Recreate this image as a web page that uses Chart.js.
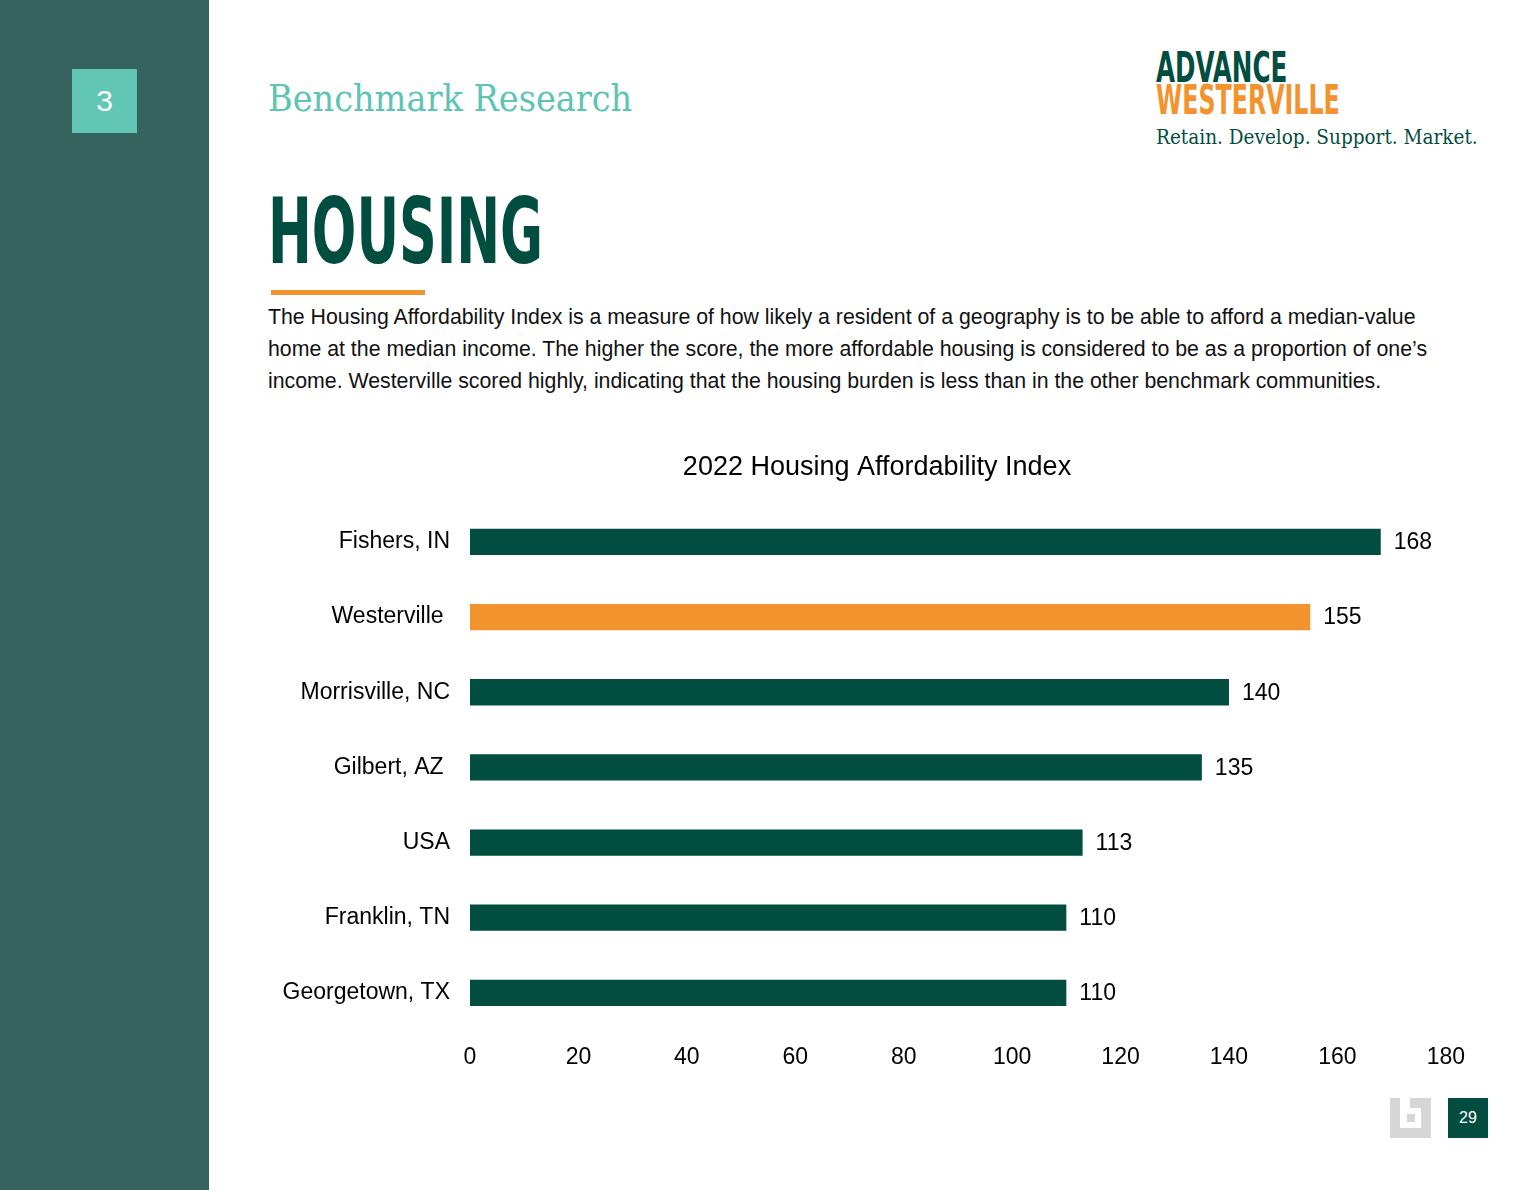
<!DOCTYPE html>
<html>
<head>
<meta charset="utf-8">
<script src="https://cdn.jsdelivr.net/npm/chart.js@4.4.1/dist/chart.umd.min.js"></script>
<style>
  html, body { margin: 0; padding: 0; }
  body { width: 1540px; height: 1190px; position: relative; background: #fff; overflow: hidden; font-family: "Liberation Sans", Arial, sans-serif; }
  .side { position: absolute; left: 0; top: 0; width: 209px; height: 1190px; background: #37635f; }
  .badge { position: absolute; left: 72px; top: 69px; width: 65px; height: 64px; background: #62c6b5; color: #fff; font-size: 30px; line-height: 64px; text-align: center; }
  .fit { position: absolute; white-space: nowrap; transform-origin: 0 0; }
  .section { left: 268px; top: 76px; font-family: "DejaVu Serif", "Liberation Serif", serif; font-size: 38px; color: #5ec4b3; }
  .adv { left: 1156px; top: 46px; font-family: "DejaVu Sans Condensed", "DejaVu Sans", sans-serif; font-weight: bold; font-size: 42px; line-height: 43px; color: #014d40; }
  .wes { left: 1156px; top: 80px; font-family: "DejaVu Sans Condensed", "DejaVu Sans", sans-serif; font-weight: bold; font-size: 41px; line-height: 41px; color: #f2932e; }
  .tag { left: 1156px; top: 125px; font-family: "DejaVu Serif", "Liberation Serif", serif; font-size: 20px; color: #014d40; }
  .title { left: 268px; top: 187px; font-family: "DejaVu Sans Condensed", "DejaVu Sans", sans-serif; font-weight: bold; font-size: 90px; line-height: 90px; color: #014d40; }
  .rule { position: absolute; left: 271px; top: 290px; width: 154px; height: 5px; background: #f2932e; }
  .para { position: absolute; left: 268px; top: 301px; width: 1260px; font-size: 21.3px; line-height: 32px; color: #111; }
  .chartbox { position: absolute; left: 264px; top: 440px; width: 1214px; height: 644px; }
  .icon { position: absolute; left: 1390px; top: 1098px; width: 41px; height: 40px; background: #d6d6d6; }
  .icon .in { position: absolute; left: 10px; top: 10px; width: 21px; height: 20px; background: #fff; }
  .icon .dot { position: absolute; left: 17px; top: 16px; width: 8px; height: 8px; background: #d6d6d6; }
  .icon .gap { position: absolute; left: 10px; top: 0; width: 10px; height: 10px; background: #fff; }
  .page { position: absolute; left: 1448px; top: 1098px; width: 40px; height: 40px; background: #014d40; color: #fff; font-size: 16px; line-height: 40px; text-align: center; }
</style>
</head>
<body>
<div class="side"></div>
<div class="badge">3</div>
<div class="fit section" data-w="364">Benchmark Research</div>
<div class="fit adv" data-w="131">ADVANCE</div>
<div class="fit wes" data-w="184">WESTERVILLE</div>
<div class="fit tag" data-w="322">Retain. Develop. Support. Market.</div>
<div class="fit title" data-w="275">HOUSING</div>
<div class="rule"></div>
<div class="para">The Housing Affordability Index is a measure of how likely a resident of a geography is to be able to afford a median-value<br>home at the median income. The higher the score, the more affordable housing is considered to be as a proportion of one’s<br>income. Westerville scored highly, indicating that the housing burden is less than in the other benchmark communities.</div>
<div class="chartbox"><canvas id="chart"></canvas></div>
<div class="icon"><div class="in"></div><div class="gap"></div><div class="dot"></div></div>
<div class="page">29</div>

<script>
"use strict";

const chartTitle = "2022 Housing Affordability Index";
const places = ["Fishers, IN", "Westerville ", "Morrisville, NC", "Gilbert, AZ ", "USA", "Franklin, TN", "Georgetown, TX"];
const scores = [168, 155, 140, 135, 113, 110, 110];
const highlightPlace = "Westerville ";
const axisMax = 180;
const axisStep = 20;

const GREEN = "#014d40";
const ORANGE = "#f2932e";

// squeeze the condensed headings to the widths seen on the page
document.querySelectorAll(".fit").forEach((el) => {
  const target = Number(el.dataset.w);
  const w = el.scrollWidth;
  if (w > 0) el.style.transform = `scaleX(${target / w})`;
});

const valueLabels = {
  id: "valueLabels",
  afterDatasetsDraw(chart) {
    const ctx = chart.ctx;
    const meta = chart.getDatasetMeta(0);
    ctx.save();
    ctx.font = '23px "Liberation Sans", Arial, sans-serif';
    ctx.fillStyle = "#000";
    ctx.textBaseline = "middle";
    ctx.textAlign = "left";
    meta.data.forEach((bar, i) => {
      ctx.fillText(String(scores[i]), bar.x + 13, bar.y + 1);
    });
    ctx.restore();
  },
};

Chart.defaults.font.family = '"Liberation Sans", Arial, sans-serif';
Chart.defaults.color = "#000";

new Chart(document.getElementById("chart"), {
  type: "bar",
  data: {
    labels: places,
    datasets: [
      {
        data: scores,
        backgroundColor: places.map((p) => (p === highlightPlace ? ORANGE : GREEN)),
        barPercentage: 0.7,
        categoryPercentage: 0.5,
      },
    ],
  },
  options: {
    indexAxis: "y",
    responsive: true,
    maintainAspectRatio: false,
    animation: false,
    layout: { padding: { left: 12, right: 0, bottom: 0 } },
    plugins: {
      legend: { display: false },
      tooltip: { enabled: false },
      title: {
        display: true,
        text: chartTitle,
        font: { size: 27, weight: "normal" },
        color: "#000",
        padding: { top: 11, bottom: 21 },
      },
    },
    scales: {
      x: {
        min: 0,
        max: axisMax,
        ticks: { stepSize: axisStep, font: { size: 23 }, color: "#000", padding: 13 },
        grid: { display: false, drawTicks: false },
        border: { display: false },
      },
      y: {
        ticks: { font: { size: 23 }, color: "#000", padding: 20 },
        grid: { display: false, drawTicks: false },
        border: { display: false },
        afterFit(scale) {
          scale.width = 194;
        },
      },
    },
  },
  plugins: [valueLabels],
});
</script>
</body>
</html>
